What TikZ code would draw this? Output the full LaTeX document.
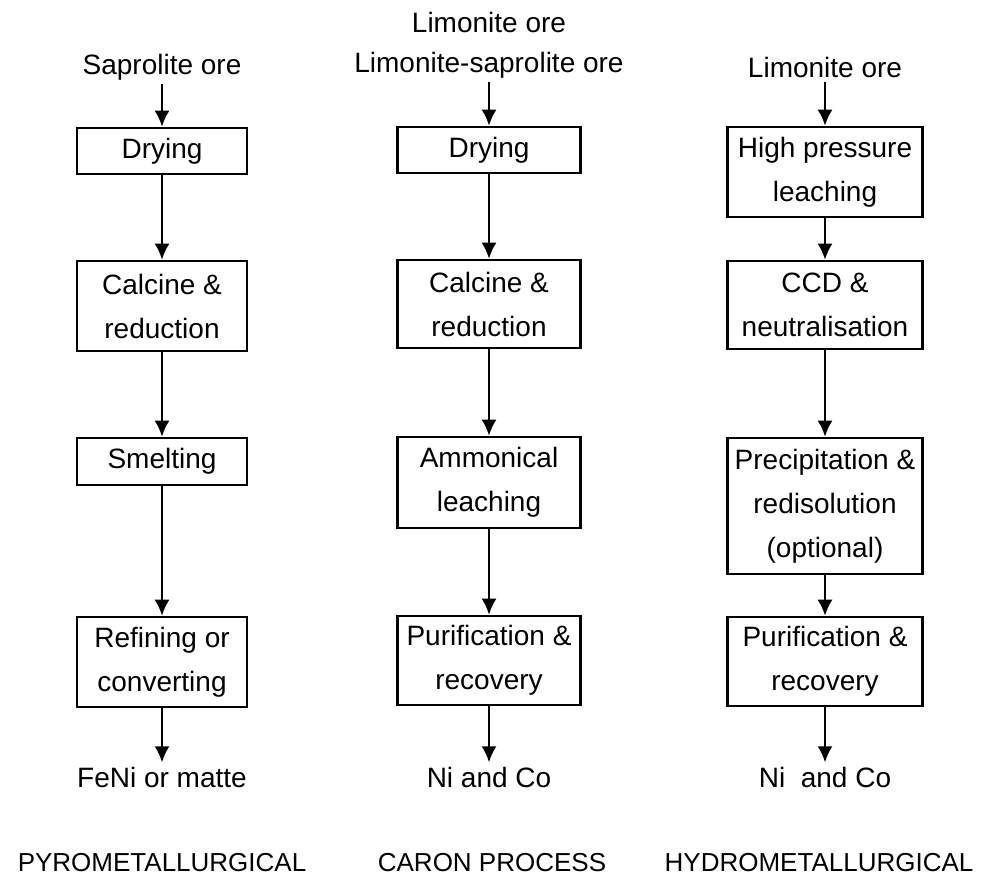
\documentclass[tikz,border=0pt]{standalone}
\usepackage{fontspec}
\setmainfont{Liberation Sans}
\usetikzlibrary{arrows.meta}
\begin{document}
\begin{tikzpicture}[x=0.5pt,y=-0.5pt,
    font=\fontsize{14}{22}\selectfont,
    pyro/.style={minimum width=85pt},
    caron/.style={minimum width=91.5pt},
    hydro/.style={minimum width=97.5pt},
    title/.style={font=\fontsize{13}{16}\selectfont}]
  \useasboundingbox (0,0) rectangle (990,879);

  \begin{scope}[every node/.style={draw,line width=1.3pt,align=center,inner sep=0pt}]
    % pyrometallurgical
    \node[pyro,minimum height=23pt] (dry1) at (162,151) {Drying};
    \node[pyro,minimum height=45pt] (cal1) at (162,306) {Calcine \&\\reduction};
    \node[pyro,minimum height=23.5pt] (sme1) at (162,461.5) {Smelting};
    \node[pyro,minimum height=45pt] (ref1) at (162,662) {Refining or\\converting};
    % caron process
    \node[caron,minimum height=23pt] (dry2) at (489,150) {Drying};
    \node[caron,minimum height=44pt] (cal2) at (489,304) {Calcine \&\\reduction};
    \node[caron,minimum height=45.5pt] (amm2) at (489,482.5) {Ammonical\\leaching};
    \node[caron,minimum height=44.5pt] (pur2) at (489,660.5) {Purification \&\\recovery};
    % hydrometallurgical
    \node[hydro,minimum height=45pt] (hpl3) at (825,172) {High pressure\\leaching};
    \node[hydro,minimum height=44pt] (ccd3) at (825,305) {CCD \&\\neutralisation};
    \node[hydro,minimum height=68pt] (pre3) at (825,506) {Precipitation \&\\redisolution\\(optional)};
    \node[hydro,minimum height=44.5pt] (pur3) at (825,661.5) {Purification \&\\recovery};
  \end{scope}

  \begin{scope}[every node/.style={align=center,inner sep=2pt}]
    \node (sap1) at (162,67) {Saprolite ore};
    \node (lim2) at (489,22) {Limonite ore};
    \node (ls2) at (489,65) {Limonite-saprolite ore};
    \node (lim3) at (825,67) {Limonite ore};
    \node (out1) at (162,777) {FeNi or matte};
    \node (out2) at (489,777) {Ni and Co};
    \node (out3) at (825,777) {Ni~ and Co};
    \node[title] (lab1) at (162,863) {PYROMETALLURGICAL};
    \node[title] (lab2) at (492,863) {CARON PROCESS};
    \node[title] (lab3) at (819,863) {HYDROMETALLURGICAL};
  \end{scope}

  \begin{scope}[every edge/.style={draw=black,line width=1.1pt}]
    \path [-{Latex[length=8pt,width=7.5pt]}] (sap1) edge (dry1)
      (dry1) edge (cal1) (cal1) edge (sme1) (sme1) edge (ref1) (ref1) edge (out1);
    \path [-{Latex[length=8pt,width=7.5pt]}] (ls2) edge (dry2)
      (dry2) edge (cal2) (cal2) edge (amm2) (amm2) edge (pur2) (pur2) edge (out2);
    \path [-{Latex[length=8pt,width=7.5pt]}] (lim3) edge (hpl3)
      (hpl3) edge (ccd3) (ccd3) edge (pre3) (pre3) edge (pur3) (pur3) edge (out3);
  \end{scope}
\end{tikzpicture}
\end{document}
